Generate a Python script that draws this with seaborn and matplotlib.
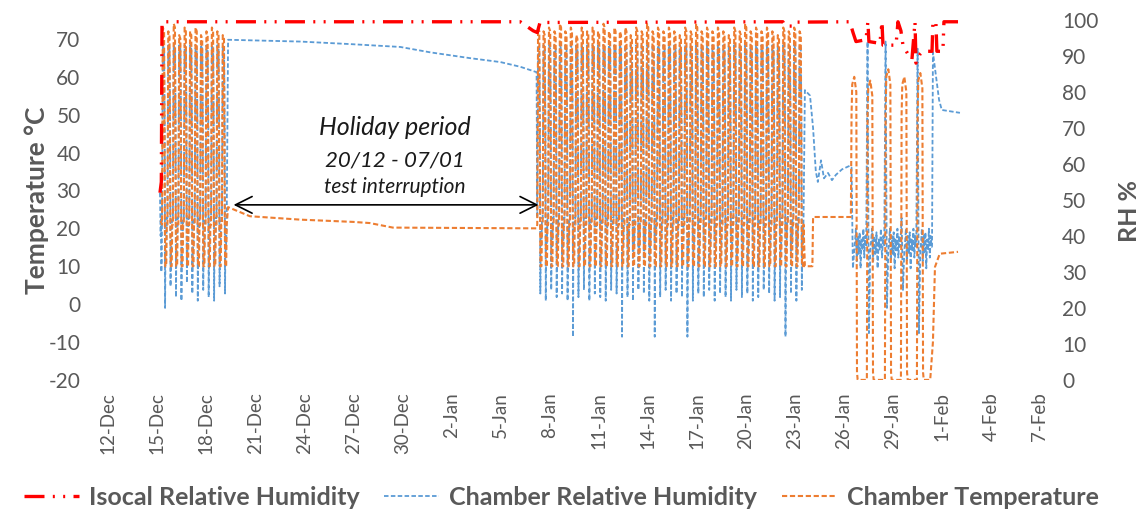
import matplotlib.pyplot as plt
import matplotlib.dates as mdates
import numpy as np
import pandas as pd
import seaborn as sns

# ---- values ----
# one 8 h test cycle (hours into cycle) for the two cycling blocks
cyc_temp_hours = [0, 1.2, 3.0, 4.2, 4.8, 6.2, 7.0]
cyc_rh_hours = [0, 1.2, 3.0, 4.0, 4.5, 5.0, 6.2, 7.0]
cyc_rh_shape = [45, 93, 92, 70, None, 35, 38, 45]  # None = trough of that cycle

blk1_start = '2015-12-15 07:00'
blk1_peak = [73, 72, 74, 71, 73, 72, 73, 71, 72, 73, 72, 71]
blk1_low = [20, 26, 23, 22, 27, 24, 22, 25, 23, 22, 26, 24]

blk2_start = '2016-01-07 06:00'
blk2_peak = [73, 72, 73, 72, 74, 72, 73,
             71, 73, 72, 73, 72, 74, 72,
             73, 72, 73, 71, 73, 72, 74,
             72, 73, 72, 73, 72, 71, 73,
             72, 74, 72, 73, 72, 73, 72,
             71, 73, 72, 74, 72, 73, 72,
             73, 72, 71, 73, 72, 73, 72]
blk2_low = [24, 22, 25, 23, 24, 22, 12,
            23, 25, 22, 24, 23, 22, 25,
            24, 12, 23, 22, 25, 24, 22,
            12, 23, 25, 22, 24, 23, 12,
            22, 24, 23, 25, 22, 24, 23,
            22, 25, 23, 24, 22, 23, 25,
            24, 22, 23, 12, 24, 22, 25]

pre_rh_time = ['2015-12-15 04:00', '2015-12-15 05:00', '2015-12-15 05:30',
               '2015-12-15 06:00', '2015-12-15 06:30']
pre_rh = [52, 40, 45, 30, 33]
pre_temp_time = ['2015-12-15 05:00']
pre_temp = [22]

hol_temp_time = ['2015-12-19 08:00', '2015-12-20 16:00', '2015-12-23 18:00',
                 '2015-12-27 00:00', '2015-12-28 00:00', '2015-12-29 10:00',
                 '2016-01-07 05:00']
hol_temp = [25.6, 23.2, 22.3, 21.7, 21.4, 20.2, 20.0]
hol_rh_time = ['2015-12-19 08:00', '2015-12-23 18:00', '2015-12-26 19:00',
               '2015-12-29 21:00', '2015-12-31 17:00', '2016-01-03 03:00',
               '2016-01-05 00:00', '2016-01-06 05:00', '2016-01-07 05:00']
hol_rh = [94.5, 94.0, 93.3, 92.5, 91.0, 89.4, 88.3, 87.0, 85.5]

post_temp_time = ['2016-01-23 15:00', '2016-01-24 02:00', '2016-01-24 03:00',
                  '2016-01-26 09:30']
post_temp = [10, 10, 23, 23]
post_rh_time = ['2016-01-23 15:00', '2016-01-23 22:30', '2016-01-24 03:00',
                '2016-01-24 07:00', '2016-01-24 10:00', '2016-01-24 14:40',
                '2016-01-24 19:00', '2016-01-25 01:00', '2016-01-25 06:45',
                '2016-01-25 12:40', '2016-01-25 21:30', '2016-01-26 09:00']
post_rh = [80.5, 79.0, 70.0, 58.0, 55.0, 61.0, 56.0, 57.5, 55.5, 57.0, 58.5, 59.5]

# freeze cycles at the end of January
tower_start = ['2016-01-26 10:30', '2016-01-27 10:00', '2016-01-28 12:30',
               '2016-01-29 12:00', '2016-01-30 11:30']
tower_temp = [60, 59, 62, 60, 61]
tower_rh_high = [59, 94, 94, 45, 92]
tower_rh_low = [31, 13, 20, 25, 13]
blob_rh = [38, 42, 33, 40, 35, 41, 31, 39, 36, 42, 34, 40, 37]

end_temp_time = ['2016-01-31 07:00', '2016-01-31 11:00', '2016-01-31 14:00',
                 '2016-01-31 21:00', '2016-02-01 23:50']
end_temp = [-20, -10, 9.8, 13.3, 13.8]
end_rh_time = ['2016-01-31 09:40', '2016-01-31 11:00', '2016-01-31 16:50',
               '2016-01-31 20:00', '2016-02-01 00:00', '2016-02-02 02:40']
end_rh = [37, 91, 82.5, 77.8, 75, 74.2]

iso_time = ['2015-12-15 04:00', '2015-12-15 06:00', '2015-12-15 07:00',
            '2016-01-06 05:00', '2016-01-07 00:00', '2016-01-07 06:00',
            '2016-01-07 10:00', '2016-01-22 06:45', '2016-01-22 09:50',
            '2016-01-23 00:30', '2016-01-23 03:30', '2016-01-26 09:00',
            '2016-01-26 13:40', '2016-01-26 18:00', '2016-01-27 08:40',
            '2016-01-27 11:30', '2016-01-27 13:00', '2016-01-28 05:10',
            '2016-01-28 08:10', '2016-01-28 09:40', '2016-01-29 04:50',
            '2016-01-29 07:40', '2016-01-29 12:00', '2016-01-29 15:00',
            '2016-01-29 22:20', '2016-01-30 04:10', '2016-01-30 08:40',
            '2016-01-30 10:10', '2016-01-30 16:00', '2016-01-30 20:20',
            '2016-01-31 09:40', '2016-01-31 11:00', '2016-01-31 15:20',
            '2016-01-31 16:50', '2016-02-01 01:40', '2016-02-01 03:10',
            '2016-02-01 23:50']
iso_rh = [52, 55, 99.5, 99.5, 97, 96.5, 99.3, 99.5, 98.3, 98.3, 99.4, 99.5,
          96.5, 94, 94.5, 99.5, 94, 93.5, 99.5, 93, 93, 99.5, 97, 93,
          90.5, 89, 99.5, 88, 90.5, 91.3, 91.3, 99.5, 99.5, 91.3, 91.3, 99.5,
          99.5]


H = pd.Timedelta(hours=1)


def cycle_block(start, peaks, lows):
    tt, temp, rt, rh = [], [], [], []
    t0 = pd.Timestamp(start)
    for i, (p, lo) in enumerate(zip(peaks, lows)):
        c = t0 + 8 * i * H
        for h, v in zip(cyc_temp_hours, [21, p, p - 1, 21, 10, 10, 21]):
            tt.append(c + h * H)
            temp.append(v)
        for h, v in zip(cyc_rh_hours, cyc_rh_shape):
            rt.append(c + h * H)
            rh.append(lo if v is None else v)
    return tt, temp, rt, rh


def towers():
    tt, temp, rt, rh = [], [], [], []
    starts = [pd.Timestamp(s) for s in tower_start]
    for i, T in enumerate(starts):
        first = 23 if i == 0 else -20
        p = tower_temp[i]
        for h, v in zip([0, 1, 2, 5, 8, 9, 10], [first, 50, p - 2, p, p - 4, -18, -20]):
            tt.append(T + h * H)
            temp.append(v)
        for h, v in zip([1, 3, 5], [tower_rh_high[i], tower_rh_low[i], 36]):
            rt.append(T + h * H)
            rh.append(v)
        b0 = T + 6 * H
        b1 = starts[i + 1] - H if i + 1 < len(starts) else pd.Timestamp('2016-01-31 09:00')
        step = (b1 - b0) / (len(blob_rh) - 1)
        for k, v in enumerate(blob_rh):
            rt.append(b0 + k * step)
            rh.append(v)
    return tt, temp, rt, rh


b1 = cycle_block(blk1_start, blk1_peak, blk1_low)
b2 = cycle_block(blk2_start, blk2_peak, blk2_low)
tw = towers()

temp_t = (list(pd.to_datetime(pre_temp_time)) + b1[0] + list(pd.to_datetime(hol_temp_time))
          + b2[0] + list(pd.to_datetime(post_temp_time)) + tw[0]
          + list(pd.to_datetime(end_temp_time)))
temp_v = pre_temp + b1[1] + hol_temp + b2[1] + post_temp + tw[1] + end_temp

rh_t = (list(pd.to_datetime(pre_rh_time)) + b1[2] + list(pd.to_datetime(hol_rh_time))
        + b2[2] + list(pd.to_datetime(post_rh_time)) + tw[2]
        + list(pd.to_datetime(end_rh_time)))
rh_v = pre_rh + b1[3] + hol_rh + b2[3] + post_rh + tw[3] + end_rh

df_temp = pd.DataFrame({'time': temp_t, 'value': temp_v})
df_rh = pd.DataFrame({'time': rh_t, 'value': rh_v})
df_iso = pd.DataFrame({'time': pd.to_datetime(iso_time), 'value': iso_rh})

# ---- plot ----
sns.set_theme(style='white')
plt.rcParams['font.family'] = ['Lato', 'DejaVu Sans']
plt.rcParams['axes.unicode_minus'] = False
grey = '#595959'
red, blue, orange = '#FF0000', '#5B9BD5', '#ED7D31'

fig, ax_t = plt.subplots(figsize=(11.46, 5.12), dpi=100)
fig.subplots_adjust(left=0.0873, right=0.9145, top=0.961, bottom=0.258)
ax_rh = ax_t.twinx()
ax_iso = ax_t.twinx()
ax_rh.set_zorder(0)
ax_t.set_zorder(1)
ax_iso.set_zorder(2)
ax_t.patch.set_visible(False)

sns.lineplot(data=df_rh, x='time', y='value', ax=ax_rh, color=blue, lw=1.3,
             linestyle=(0, (2.5, 1.3)), estimator=None, sort=False,
             label='Chamber Relative Humidity', legend=False)
sns.lineplot(data=df_temp, x='time', y='value', ax=ax_t, color=orange, lw=1.5,
             linestyle=(0, (2.5, 1.3)), estimator=None, sort=False,
             label='Chamber Temperature', legend=False)
sns.lineplot(data=df_iso, x='time', y='value', ax=ax_iso, color=red, lw=2.4,
             linestyle=(0, (6, 2.5, 0.6, 2.5, 0.6, 2.5)), estimator=None, sort=False,
             label='Isocal Relative Humidity', legend=False)

xmin = pd.Timestamp('2015-12-11 12:00')
xmax = pd.Timestamp('2016-02-07 12:00')
ax_t.set_xlim(xmin, xmax)
ax_t.set_xticks(pd.date_range('2015-12-12', '2016-02-07', freq='3D'))
ax_t.xaxis.set_major_formatter(mdates.DateFormatter('%-d-%b'))
ax_t.tick_params(axis='x', rotation=90, length=0, pad=9, labelsize=13.5, labelcolor=grey)

ax_t.set_ylim(-20, 75)
ax_t.set_yticks(range(-20, 71, 10))
ax_t.tick_params(axis='y', length=0, pad=14, labelsize=15, labelcolor=grey)
ax_t.set_ylabel('Temperature °C', fontsize=19, fontweight='bold', color=grey, labelpad=0)
ax_t.set_xlabel('')

ax_rh.set_ylim(0, 100)
ax_rh.set_yticks(range(0, 101, 10))
ax_rh.tick_params(axis='y', length=0, pad=10, labelsize=15, labelcolor=grey)
ax_rh.set_ylabel('RH %', fontsize=18, fontweight='bold', color=grey)
ax_rh.yaxis.set_label_coords(1.074, 0.47)
ax_iso.set_ylim(0, 100)
ax_iso.set_yticks([])
ax_iso.set_ylabel('')

for a in (ax_t, ax_rh, ax_iso):
    for s in a.spines.values():
        s.set_visible(False)
    a.grid(False)

# holiday annotation
ax_t.annotate('', xy=(mdates.date2num(pd.Timestamp('2015-12-19 12:00')), 26.2),
              xytext=(mdates.date2num(pd.Timestamp('2016-01-07 12:00')), 26.2),
              arrowprops=dict(arrowstyle='<->', color='black', lw=1.2, mutation_scale=30))
xc = mdates.date2num(pd.Timestamp('2015-12-29 13:00'))
ax_t.text(xc, 46.5, 'Holiday period', style='italic', ha='center', va='center',
          fontsize=18, color='#1a1a1a')
ax_t.text(xc, 38.0, '20/12 - 07/01', style='italic', ha='center', va='center',
          fontsize=16, color='#1a1a1a')
ax_t.text(xc, 30.8, 'test interruption', style='italic', ha='center', va='center',
          fontsize=15, color='#1a1a1a')

handles = [ax_iso.get_lines()[0], ax_rh.get_lines()[0], ax_t.get_lines()[0]]
labels = ['Isocal Relative Humidity', 'Chamber Relative Humidity', 'Chamber Temperature']
fig.legend(handles, labels, loc='center', bbox_to_anchor=(0.49, 0.028), ncol=3,
           frameon=False, prop=dict(weight='bold', size=18), labelcolor=grey,
           handlelength=2.2, columnspacing=1.0, handletextpad=0.4)

fig.savefig('out.png', dpi=100)
